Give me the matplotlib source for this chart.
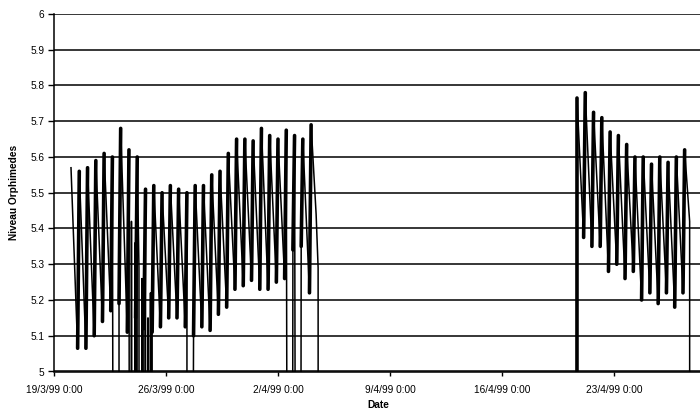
import pandas as pd
import numpy as np
import matplotlib
matplotlib.use("Agg")
import matplotlib.pyplot as plt

plt.rcParams["font.family"] = ["Liberation Sans", "DejaVu Sans"]

# ---- data --------------------------------------------------------------
# semi-diurnal tide: a peak every ~12.4 h, trough read after each peak
PERIOD_H = 12.42
FALL = 0.8           # share of the period from a peak down to its trough

seg1_first_peak = pd.Timestamp("1999-03-20 01:30")
seg1_peaks = [5.57, 5.56, 5.57, 5.59, 5.61, 5.60, 5.68, 5.62, 5.60, 5.51,
              5.52, 5.50, 5.52, 5.51, 5.50, 5.52, 5.52, 5.55, 5.56, 5.61,
              5.65, 5.65, 5.645, 5.68, 5.66, 5.65, 5.675, 5.66, 5.65, 5.69]
seg1_troughs = [5.065, 5.065, 5.10, 5.14, 5.17, 5.19, 5.11, 5.15, 5.12,
                5.11, 5.125, 5.15, 5.15, 5.125, 5.10, 5.125, 5.115, 5.16,
                5.18, 5.23, 5.24, 5.255, 5.23, 5.23, 5.25, 5.26, 5.34,
                5.35, 5.22]
seg1_tail_h = [7.5, 10.5, 11.0]          # hours after last peak
seg1_tail = [5.44, 5.29, 0.0]

seg2_first_peak = pd.Timestamp("1999-04-20 16:30")
seg2_peaks = [5.765, 5.78, 5.725, 5.71, 5.67, 5.66, 5.635, 5.60, 5.60,
              5.58, 5.60, 5.585, 5.60, 5.62]
seg2_troughs = [5.375, 5.35, 5.35, 5.28, 5.30, 5.26, 5.28, 5.20, 5.22,
                5.19, 5.22, 5.18, 5.22]
seg2_head = [0.0]
seg2_head_h = [-0.3]
seg2_tail_h = [7.5, 7.9]
seg2_tail = [5.42, 0.0]

# logger drop-outs (recorded as 0) and the noisy stretch around 24/3
dropout_days = [3.875, 4.06, 8.33, 14.78, 15.30]
noise_days = [4.81, 4.84, 4.94, 5.06, 5.125, 5.31, 5.375, 5.50, 5.56,
              5.66, 5.75, 5.875, 5.94, 6.03, 6.125]
noise_vals = [0.0, 5.42, 0.0, 5.36, 0.0, 5.29, 0.0, 5.26, 0.0,
              5.18, 0.0, 5.15, 0.0, 5.22, 0.0]

t0 = pd.Timestamp("1999-03-19")
tick_dates = pd.date_range("1999-03-19", periods=6, freq="7D")
y_ticks = [5.0, 5.1, 5.2, 5.3, 5.4, 5.5, 5.6, 5.7, 5.8, 5.9, 6.0]


def tide_series(first_peak, peaks, troughs):
    per = pd.Timedelta(hours=PERIOD_H)
    idx, vals, rises = [], [], []
    for i, p in enumerate(peaks):
        tp = first_peak + i * per
        idx.append(tp)
        vals.append(p)
        if i < len(troughs):
            tt = first_peak + (i + FALL) * per
            idx.append(tt)
            vals.append(troughs[i])
            rises.append(([tt, tp + per], [troughs[i], peaks[i + 1]]))
    return pd.Series(vals, index=idx), rises


s1, rises1 = tide_series(seg1_first_peak, seg1_peaks, seg1_troughs)
last1 = s1.index[-1]
s1 = pd.concat([
    s1,
    pd.Series(seg1_tail, index=[last1 + pd.Timedelta(hours=h) for h in seg1_tail_h]),
    pd.Series(0.0, index=[t0 + pd.Timedelta(days=d) for d in dropout_days]),
    pd.Series(noise_vals, index=[t0 + pd.Timedelta(days=d) for d in noise_days]),
]).sort_index()

s2, rises2 = tide_series(seg2_first_peak, seg2_peaks, seg2_troughs)
last2 = s2.index[-1]
head2 = pd.Series(seg2_head, index=[seg2_first_peak + pd.Timedelta(hours=h) for h in seg2_head_h])
s2 = pd.concat([
    head2,
    s2,
    pd.Series(seg2_tail, index=[last2 + pd.Timedelta(hours=h) for h in seg2_tail_h]),
]).sort_index()
rises2.append(([head2.index[0], seg2_first_peak], [seg2_head[0], seg2_peaks[0]]))

# ---- figure -------------------------------------------------------------
fig = plt.figure(figsize=(7, 4.11), dpi=100)
ax = fig.add_axes([54 / 700, 39.5 / 411, 648 / 700, 357.5 / 411])

for s in (s1, s2):
    ax.plot(s.index, s.values, color="black", lw=1.1, solid_joinstyle="round")
# rising limbs show up as heavy strokes in the original
for xs, ys in rises1 + rises2:
    ax.plot(xs, ys, color="black", lw=2.6, solid_capstyle="round")

ax.set_ylim(5, 6)
ax.set_xlim(t0, t0 + pd.Timedelta(days=40.5))
ax.set_yticks(y_ticks)
ax.set_yticklabels([f"{v:g}" for v in y_ticks])
ax.set_xticks(tick_dates)
ax.set_xticklabels([f"{d.day}/{d.month}/{d.strftime('%y')} 0:00" for d in tick_dates])

ax.grid(axis="y", color="black", lw=1.1)
ax.set_axisbelow(True)
for side in ("top", "right"):
    ax.spines[side].set_visible(False)
for side in ("left", "bottom"):
    ax.spines[side].set_linewidth(1.1)

ax.tick_params(axis="x", length=3, width=1, pad=7, labelsize=7.3, direction="out")
ax.tick_params(axis="y", length=4, width=1, pad=3, labelsize=7.3, direction="out")

ax.set_xlabel("Date", fontsize=7.3, fontweight="bold", labelpad=3)
ax.set_ylabel("Niveau Orphimedes", fontsize=7.3, fontweight="bold", labelpad=8)

fig.savefig("out.png", dpi=100, facecolor="white")
